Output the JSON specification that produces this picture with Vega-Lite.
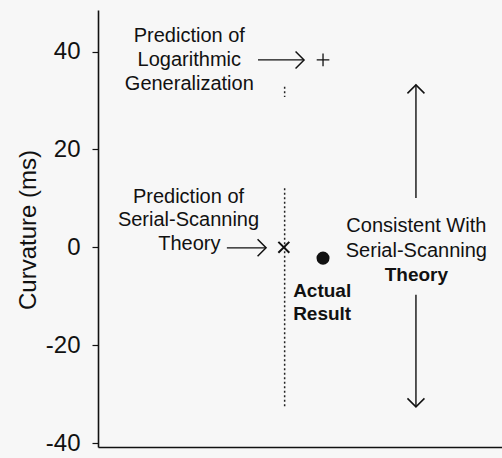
{
  "$schema": "https://vega.github.io/schema/vega-lite/v6.json",
  "width": 404,
  "height": 437,
  "autosize": {"type": "none"},
  "padding": {"left": 98, "top": 10, "right": 0, "bottom": 11},
  "background": "#f7f7f7",
  "config": {"view": {"stroke": null}, "axis": {"grid": false}, "font": "Liberation Sans"},
  "datasets": {
    "guides": [
      {"x": 46.2, "x2": 46.2, "y": 32.8, "y2": 30.7},
      {"x": 46.2, "x2": 46.2, "y": 12.1, "y2": -32.8}
    ],
    "arrows": [
      {"x": 39.6, "x2": 51.0, "y": 38.3, "y2": 38.3},
      {"x": 31.9, "x2": 41.6, "y": -0.1, "y2": -0.1},
      {"x": 78.7, "x2": 78.7, "y": 33.2, "y2": 10.1},
      {"x": 78.7, "x2": 78.7, "y": -9.7, "y2": -32.6}
    ],
    "heads": [
      {"x": 51.0, "y": 38.3, "dir": "right"},
      {"x": 41.6, "y": -0.1, "dir": "right"},
      {"x": 78.7, "y": 33.2, "dir": "up"},
      {"x": 78.7, "y": -32.6, "dir": "down"}
    ],
    "logPrediction": [{"x": 55.7, "y": 38.3}],
    "serialPrediction": [{"x": 46.0, "y": 0}],
    "actual": [{"x": 55.7, "y": -2.2}],
    "labelsPlain": [
      {"x": 22.6, "y": 41.9, "text": "Prediction of"},
      {"x": 22.6, "y": 37.0, "text": "Logarithmic"},
      {"x": 22.6, "y": 32.1, "text": "Generalization"},
      {"x": 22.4, "y": 9.0, "text": "Prediction of"},
      {"x": 22.4, "y": 4.3, "text": "Serial-Scanning"},
      {"x": 22.6, "y": -0.5, "text": "Theory"},
      {"x": 78.8, "y": 3.1, "text": "Consistent With"},
      {"x": 78.8, "y": -1.9, "text": "Serial-Scanning"}
    ],
    "labelsBold": [
      {"x": 78.8, "y": -6.9, "text": "Theory"}
    ],
    "labelsLeft": [
      {"x": 48.3, "y": -10.1, "text": "Actual"},
      {"x": 48.3, "y": -14.8, "text": "Result"}
    ]
  },
  "encoding": {
    "x": {
      "field": "x", "type": "quantitative",
      "scale": {"domain": [0, 100], "nice": false, "zero": false},
      "axis": {"title": null, "labels": false, "ticks": false, "domainColor": "#111", "domainWidth": 1.6}
    },
    "y": {
      "field": "y", "type": "quantitative",
      "scale": {"domain": [-40.8, 48.5], "nice": false, "zero": false},
      "axis": {
        "title": "Curvature (ms)", "values": [-40, -20, 0, 20, 40],
        "labelExpr": "replace(datum.label, '\u2212', '-')",
        "tickSize": 6, "tickColor": "#111", "tickWidth": 1.2,
        "domainColor": "#111", "domainWidth": 1.6,
        "labelFontSize": 24, "labelColor": "#111", "labelPadding": 12, "labelFont": "Liberation Sans",
        "titleFontSize": 24, "titleFont": "Liberation Sans", "titleFontWeight": "normal", "titleColor": "#111",
        "titleX": -63, "titleY": 219.5, "titleAngle": 270, "titleAlign": "center", "titleBaseline": "alphabetic"
      }
    }
  },
  "layer": [
    {
      "data": {"name": "guides"},
      "mark": {"type": "rule", "color": "#222", "strokeWidth": 1.5, "strokeDash": [2, 2.5]},
      "encoding": {"x2": {"field": "x2"}, "y2": {"field": "y2"}}
    },
    {
      "data": {"name": "arrows"},
      "mark": {"type": "rule", "color": "#111", "strokeWidth": 1.4},
      "encoding": {"x2": {"field": "x2"}, "y2": {"field": "y2"}}
    },
    {
      "data": {"name": "heads"},
      "mark": {"type": "point", "filled": false, "stroke": "#111", "strokeWidth": 1.5, "size": 289, "opacity": 1},
      "encoding": {
        "shape": {
          "field": "dir", "type": "nominal", "legend": null,
          "scale": {"domain": ["right", "up", "down"], "range": ["M-1,-1L0,0L-1,1", "M-1,1L0,0L1,1", "M-1,-1L0,0L1,-1"]}
        }
      }
    },
    {
      "data": {"name": "logPrediction"},
      "mark": {"type": "point", "filled": false, "stroke": "#111", "strokeWidth": 1.3, "size": 160, "opacity": 1, "shape": "M-1,0L1,0M0,-1L0,1"}
    },
    {
      "data": {"name": "serialPrediction"},
      "mark": {"type": "point", "filled": false, "stroke": "#111", "strokeWidth": 2, "size": 120, "opacity": 1, "shape": "M-1,-1L1,1M-1,1L1,-1"}
    },
    {
      "data": {"name": "actual"},
      "mark": {"type": "point", "filled": true, "color": "#111", "size": 170, "opacity": 1, "shape": "circle"}
    },
    {
      "data": {"name": "labelsPlain"},
      "mark": {"type": "text", "align": "center", "baseline": "alphabetic", "fontSize": 20, "color": "#111", "font": "Liberation Sans"},
      "encoding": {"text": {"field": "text"}}
    },
    {
      "data": {"name": "labelsBold"},
      "mark": {"type": "text", "align": "center", "baseline": "alphabetic", "fontSize": 19, "fontWeight": "bold", "color": "#111", "font": "Liberation Sans"},
      "encoding": {"text": {"field": "text"}}
    },
    {
      "data": {"name": "labelsLeft"},
      "mark": {"type": "text", "align": "left", "baseline": "alphabetic", "fontSize": 19, "fontWeight": "bold", "color": "#111", "font": "Liberation Sans"},
      "encoding": {"text": {"field": "text"}}
    }
  ]
}
